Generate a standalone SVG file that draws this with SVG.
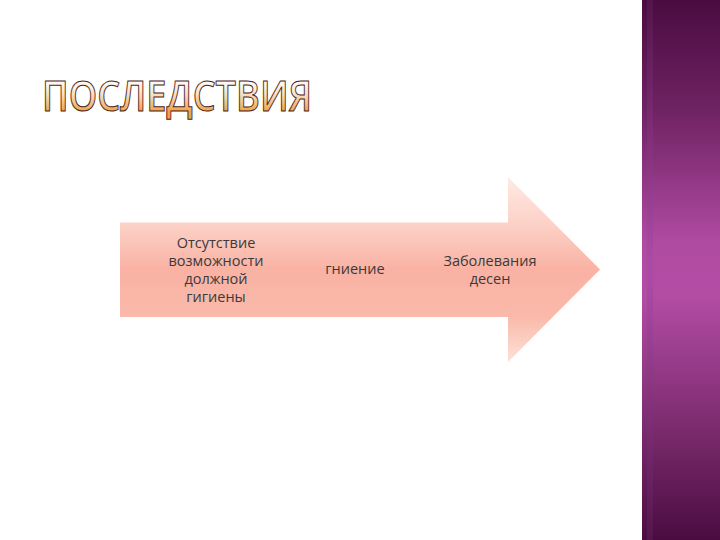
<svg xmlns="http://www.w3.org/2000/svg" width="720" height="540" viewBox="0 0 720 540">
  <defs>
    <linearGradient id="bar" x1="0" y1="0" x2="0" y2="540" gradientUnits="userSpaceOnUse">
      <stop offset="0" stop-color="#4a0c40"/>
      <stop offset="0.2" stop-color="#6e2262"/>
      <stop offset="0.45" stop-color="#b04ba2"/>
      <stop offset="0.55" stop-color="#b24ca4"/>
      <stop offset="0.8" stop-color="#7a2a6c"/>
      <stop offset="1" stop-color="#4a0c40"/>
    </linearGradient>
    <linearGradient id="stripe" x1="0" y1="0" x2="0" y2="540" gradientUnits="userSpaceOnUse">
      <stop offset="0" stop-color="#5a1a55"/>
      <stop offset="0.5" stop-color="#a84aa6"/>
      <stop offset="1" stop-color="#5a1a55"/>
    </linearGradient>
    <linearGradient id="arrow" x1="0" y1="177" x2="0" y2="362" gradientUnits="userSpaceOnUse">
      <stop offset="0" stop-color="#feeae5"/>
      <stop offset="0.25" stop-color="#fcd2c8"/>
      <stop offset="0.5" stop-color="#f9b2a3"/>
      <stop offset="0.75" stop-color="#fab9aa"/>
      <stop offset="1" stop-color="#fde0d8"/>
    </linearGradient>
    <linearGradient id="title" x1="0" y1="80" x2="0" y2="112" gradientUnits="userSpaceOnUse">
      <stop offset="0" stop-color="#ffffff"/>
      <stop offset="0.45" stop-color="#fbe0c0"/>
      <stop offset="1" stop-color="#f0a048"/>
    </linearGradient>
    <style>
      .lbl { font-family: "Open Sans", "Noto Sans", "DejaVu Sans", sans-serif; font-size: 14.5px; fill: #3a3a3a; text-anchor: middle; }
      .ttl { font-family: "Open Sans", "Noto Sans", "DejaVu Sans", sans-serif; font-size: 42px; font-weight: 600; fill: url(#title); stroke: #4a2418; stroke-width: 1; }
    </style>
  </defs>
  <rect x="0" y="0" width="720" height="540" fill="#ffffff"/>
  <g id="sidebar">
    <rect x="642" y="0" width="78" height="540" fill="url(#bar)"/>
    <rect x="647" y="0" width="6" height="540" fill="url(#stripe)" opacity="0.6"/>
  </g>
  <g id="title-group">
    <text class="ttl" x="42" y="111" textLength="270" lengthAdjust="spacingAndGlyphs">ПОСЛЕДСТВИЯ</text>
  </g>
  <g id="connectors">
    <path id="arrow-shape" d="M120,222.5 L508,222.5 L508,177 L600,269.5 L508,362 L508,317 L120,317 Z" fill="url(#arrow)"/>
  </g>
  <g id="node1">
    <text class="lbl" x="216" y="248">Отсутствие</text>
    <text class="lbl" x="216" y="266">возможности</text>
    <text class="lbl" x="216" y="284">должной</text>
    <text class="lbl" x="216" y="302">гигиены</text>
  </g>
  <g id="node2">
    <text class="lbl" x="355" y="274">гниение</text>
  </g>
  <g id="node3">
    <text class="lbl" x="490" y="266">Заболевания</text>
    <text class="lbl" x="490" y="284">десен</text>
  </g>
</svg>
